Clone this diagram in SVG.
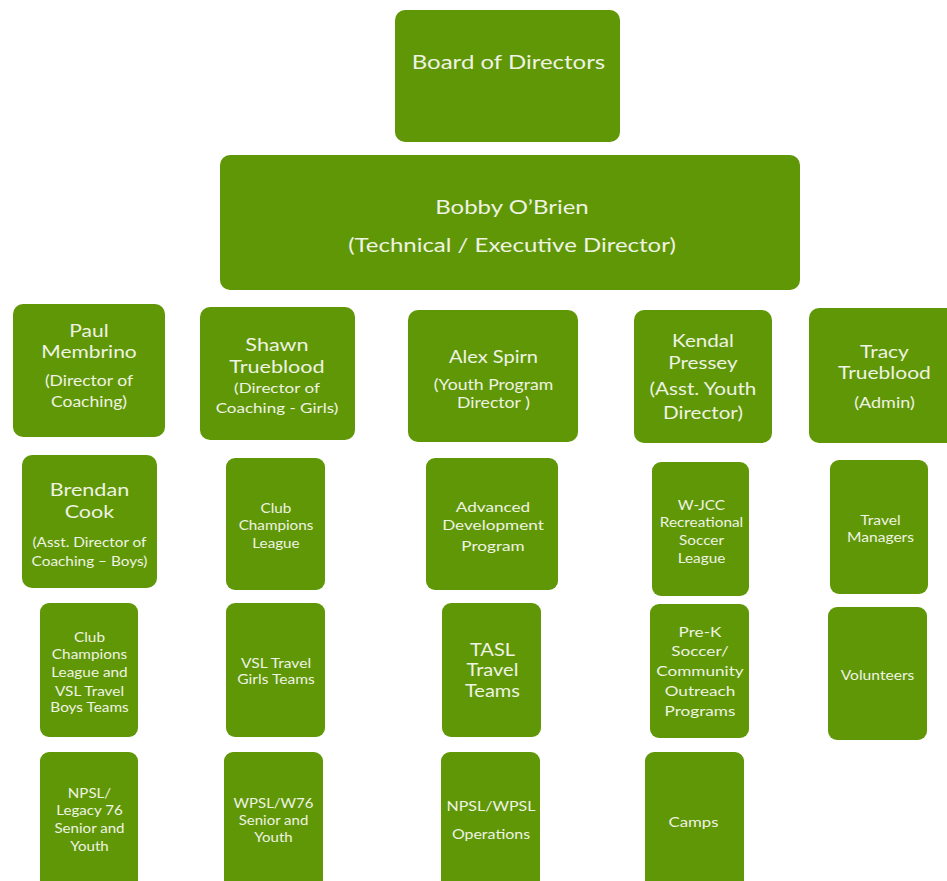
<svg xmlns="http://www.w3.org/2000/svg" width="947" height="881" viewBox="0 0 947 881">
<style>
.b{fill:#609707;}
text{font-family:Lato,"Open Sans","Liberation Sans",sans-serif;fill:#eef3e2;text-anchor:middle;}
</style>
<rect width="947" height="881" fill="#ffffff"/>
<g id="board"><rect class="b" x="395" y="10" width="225" height="132" rx="10"/><g transform="matrix(1.2 0 0 1 -101.7 0)" font-size="20"><text x="508.5" y="69.2">Board of Directors</text></g></g>
<g id="bobby"><rect class="b" x="220" y="155" width="580" height="135" rx="10"/><g transform="matrix(1.2 0 0 1 -102.4 0)" font-size="20"><text x="512" y="214.2">Bobby O’Brien</text><text x="512" y="252.2">(Technical / Executive Director)</text></g></g>

<g id="paul"><rect class="b" x="13" y="304" width="152" height="133" rx="10"/><g transform="matrix(1.2 0 0 1 -17.8 0)"><text font-size="17.5" x="89" y="337.3">Paul</text><text font-size="17.5" x="89" y="358.3">Membrino</text><text font-size="14.6" x="89" y="386.3">(Director of</text><text font-size="14.6" x="89" y="407.3">Coaching)</text></g></g>
<g id="shawn"><rect class="b" x="200" y="307" width="155" height="133" rx="10"/><g transform="matrix(1.2 0 0 1 -55.4 0)"><text font-size="18" x="277" y="351.5">Shawn</text><text font-size="18" x="277" y="373.5">Trueblood</text><text font-size="14.2" x="277" y="393.1">(Director of</text><text font-size="14.2" x="277" y="413.1">Coaching - Girls)</text></g></g>
<g id="alex"><rect class="b" x="408" y="310" width="170" height="132" rx="10"/><g transform="matrix(1.2 0 0 1 -98.7 0)"><text font-size="16.7" x="493.5" y="363">Alex Spirn</text><text font-size="14.7" x="493.5" y="390.3">(Youth Program</text><text font-size="14.7" x="493.5" y="408.3">Director )</text></g></g>
<g id="kendal"><rect class="b" x="634" y="310" width="138" height="133" rx="10"/><g transform="matrix(1.2 0 0 1 -140.6 0)" font-size="17.2"><text x="703" y="347.2">Kendal</text><text x="703" y="369.2">Pressey</text><text x="703" y="395.2">(Asst. Youth</text><text x="703" y="419.2">Director)</text></g></g>
<g id="tracy"><rect class="b" x="809" y="308" width="150" height="135" rx="10"/><g transform="matrix(1.2 0 0 1 -176.9 0)"><text font-size="17.5" x="884.5" y="358.3">Tracy</text><text font-size="17.5" x="884.5" y="379.3">Trueblood</text><text font-size="15" x="884.5" y="408.4">(Admin)</text></g></g>

<g id="brendan"><rect class="b" x="22" y="455" width="135" height="133" rx="10"/><g transform="matrix(1.2 0 0 1 -17.9 0)"><text font-size="18" x="89.5" y="496.5">Brendan</text><text font-size="18" x="89.5" y="518.5">Cook</text><text font-size="12.8" x="89.5" y="546.6">(Asst. Director of</text><text font-size="12.8" x="89.5" y="565.6">Coaching – Boys)</text></g></g>
<g id="ccl"><rect class="b" x="226" y="458" width="99" height="132" rx="9"/><g transform="matrix(1.2 0 0 1 -55.2 0)" font-size="12.7"><text x="276" y="512.6">Club</text><text x="276" y="529.6">Champions</text><text x="276" y="547.6">League</text></g></g>
<g id="adp"><rect class="b" x="426" y="458" width="132" height="132" rx="9"/><g transform="matrix(1.2 0 0 1 -98.6 0)" font-size="14.3"><text x="493" y="512.1">Advanced</text><text x="493" y="530.1">Development</text><text x="493" y="551.1">Program</text></g></g>
<g id="wjcc"><rect class="b" x="652" y="462" width="97" height="134" rx="9"/><g transform="matrix(1.2 0 0 1 -140.3 0)" font-size="12.8"><text x="701.5" y="509.6">W-JCC</text><text x="701.5" y="526.6">Recreational</text><text x="701.5" y="544.6">Soccer</text><text x="701.5" y="562.6">League</text></g></g>
<g id="travel-managers"><rect class="b" x="830" y="460" width="98" height="134" rx="9"/><g transform="matrix(1.2 0 0 1 -176.1 0)" font-size="13"><text x="880.5" y="524.7">Travel</text><text x="880.5" y="541.7">Managers</text></g></g>

<g id="ccl-vsl-boys"><rect class="b" x="40" y="603" width="98" height="134" rx="9"/><g transform="matrix(1.2 0 0 1 -17.9 0)" font-size="12.8"><text x="89.5" y="641.6">Club</text><text x="89.5" y="658.6">Champions</text><text x="89.5" y="676.6">League and</text><text x="89.5" y="695.6">VSL Travel</text><text x="89.5" y="711.6">Boys Teams</text></g></g>
<g id="vsl-girls"><rect class="b" x="226" y="603" width="99" height="134" rx="9"/><g transform="matrix(1.2 0 0 1 -55.2 0)" font-size="13"><text x="276" y="667.7">VSL Travel</text><text x="276" y="683.7">Girls Teams</text></g></g>
<g id="tasl"><rect class="b" x="442" y="603" width="99" height="134" rx="9"/><g transform="matrix(1.2 0 0 1 -98.5 0)" font-size="16.7"><text x="492.5" y="656">TASL</text><text x="492.5" y="676">Travel</text><text x="492.5" y="697">Teams</text></g></g>
<g id="prek"><rect class="b" x="650" y="604" width="99" height="134" rx="9"/><g transform="matrix(1.2 0 0 1 -140 0)" font-size="14.3"><text x="700" y="637.1">Pre-K</text><text x="700" y="656.1">Soccer/</text><text x="700" y="676.1">Community</text><text x="700" y="696.1">Outreach</text><text x="700" y="716.1">Programs</text></g></g>
<g id="volunteers"><rect class="b" x="828" y="607" width="99" height="133" rx="9"/><g transform="matrix(1.2 0 0 1 -175.5 0)" font-size="13"><text x="877.5" y="679.7">Volunteers</text></g></g>

<g id="npsl-legacy"><rect class="b" x="40" y="752" width="98" height="140" rx="9"/><g transform="matrix(1.2 0 0 1 -17.9 0)" font-size="12.6"><text x="89.5" y="798.5">NPSL/</text><text x="89.5" y="815.5">Legacy 76</text><text x="89.5" y="833.5">Senior and</text><text x="89.5" y="851.5">Youth</text></g></g>
<g id="wpsl-w76"><rect class="b" x="224" y="752" width="99" height="140" rx="9"/><g transform="matrix(1.2 0 0 1 -54.7 0)" font-size="12.5"><text x="273.5" y="808.5">WPSL/W76</text><text x="273.5" y="825.5">Senior and</text><text x="273.5" y="842.5">Youth</text></g></g>
<g id="npsl-wpsl-ops"><rect class="b" x="441" y="752" width="99" height="140" rx="9"/><g transform="matrix(1.2 0 0 1 -98.2 0)" font-size="13.3"><text x="491" y="810.8">NPSL/WPSL</text><text x="491" y="838.8">Operations</text></g></g>
<g id="camps"><rect class="b" x="645" y="752" width="99" height="140" rx="9"/><g transform="matrix(1.2 0 0 1 -138.7 0)" font-size="14"><text x="693.5" y="827">Camps</text></g></g>
</svg>
